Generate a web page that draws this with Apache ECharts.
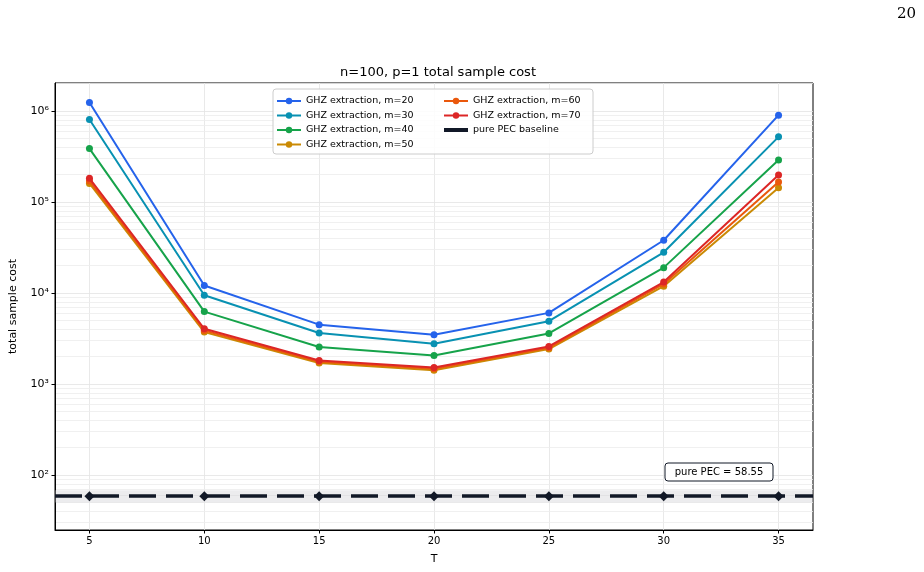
<!DOCTYPE html>
<html>
<head>
<meta charset="utf-8">
<script src="https://cdn.jsdelivr.net/npm/echarts@6/dist/echarts.min.js"></script>
<style>
  html, body { margin: 0; padding: 0; background: #fff; }
  #chart { width: 924px; height: 572px; }
</style>
</head>
<body>
<div id="chart"></div>
<script>
// T values (x axis)
var T = [5, 10, 15, 20, 25, 30, 35];

// total sample cost per m
var m20 = [1.24e6, 12100, 4490, 3470, 6050, 38000, 9.0e5];
var m30 = [8.06e5, 9440, 3640, 2770, 4900, 28000, 5.2e5];
var m40 = [3.86e5, 6250, 2550, 2060, 3600, 19000, 2.9e5];
var m50 = [1.60e5, 3720, 1700, 1420, 2420, 11900, 1.43e5];
var m60 = [1.70e5, 3880, 1760, 1470, 2500, 12600, 1.66e5];
var m70 = [1.82e5, 4050, 1815, 1520, 2590, 13200, 1.98e5];

var pecBaseline = 58.55;
var pecBand = [50, 68];

var seriesNames = ['GHZ extraction, m=20', 'GHZ extraction, m=30', 'GHZ extraction, m=40',
    'GHZ extraction, m=50', 'GHZ extraction, m=60', 'GHZ extraction, m=70'];
var seriesValues = [m20, m30, m40, m50, m60, m70];
var colors = ['#2563eb', '#0891b2', '#16a34a', '#ca8a04', '#ea580c', '#dc2626'];

var xTicks = [5, 10, 15, 20, 25, 30, 35];
var yTicks = [1e2, 1e3, 1e4, 1e5, 1e6];

// minor grid lines 2..9 x 10^k
var yMinor = [];
for (var k = 1; k <= 6; k++) {
    for (var d = 2; d <= 9; d++) {
        var v = d * Math.pow(10, k);
        if (v > 24.9 && v < 2.03e6) yMinor.push(v);
    }
}

var font = 'DejaVu Sans';

function pairs(vals) {
    return T.map(function (t, i) { return [t, vals[i]]; });
}

var series = seriesNames.map(function (name, i) {
    return {
        name: name,
        type: 'line',
        data: pairs(seriesValues[i]),
        symbol: 'circle',
        symbolSize: 7,
        color: colors[i],
        lineStyle: { width: 2 },
        z: 3 + i
    };
});

series.push({
    name: 'pure PEC baseline',
    type: 'line',
    data: T.map(function (t) { return [t, pecBaseline]; }),
    symbol: 'diamond',
    symbolSize: 10,
    color: '#111827',
    lineStyle: { width: 0, opacity: 0 },
    z: 10,
    markLine: {
        silent: true,
        symbol: 'none',
        z: 9,
        label: { show: false },
        lineStyle: { color: '#111827', width: 3.5, type: [27, 10] },
        data: [{ yAxis: pecBaseline }]
    },
    markArea: {
        silent: true,
        z: 1,
        itemStyle: { color: 'rgba(200,200,205,0.35)' },
        data: [[{ yAxis: pecBand[0] }, { yAxis: pecBand[1] }]]
    }
});

// minor horizontal grid
series.push({
    name: 'minor',
    type: 'line',
    data: [],
    silent: true,
    z: 1,
    markLine: {
        silent: true,
        symbol: 'none',
        z: 0,
        label: { show: false },
        lineStyle: { color: '#ececec', width: 0.8, type: 'solid' },
        data: yMinor.map(function (v) { return { yAxis: v }; })
    }
});

var supMap = { '2': '²', '3': '³', '4': '⁴', '5': '⁵', '6': '⁶' };

var chart = echarts.init(document.getElementById('chart'));
var option = {
    animation: false,
    backgroundColor: '#fff',
    textStyle: { fontFamily: font },
    title: {
        text: 'n=100, p=1 total sample cost',
        left: 433,
        top: 61,
        textAlign: 'center',
        textStyle: { fontFamily: font, fontSize: 13, fontWeight: 'normal', color: '#000' }
    },
    grid: { left: 53, right: 111, top: 83, bottom: 42, show: true, borderColor: '#000', borderWidth: 1 },
    legend: [{
        data: seriesNames.slice(0, 4),
        orient: 'vertical',
        left: 276, top: 96, padding: 0,
        itemWidth: 24, itemHeight: 8, itemGap: 4.5,
        textStyle: { fontFamily: font, fontSize: 9.5, color: '#000' },
        z: 20
    }, {
        data: [seriesNames[4], seriesNames[5],
            { name: 'pure PEC baseline', icon: 'path://M0,0L24,0L24,4L0,4Z' }],
        orient: 'vertical',
        left: 443, top: 96, padding: 0,
        itemWidth: 24, itemHeight: 8, itemGap: 4.5,
        textStyle: { fontFamily: font, fontSize: 9.5, color: '#000' },
        z: 20
    }],
    graphic: [{
        type: 'rect',
        shape: { x: 273, y: 89, width: 320, height: 65, r: 3 },
        style: { fill: 'rgba(255,255,255,0.85)', stroke: '#cccccc', lineWidth: 1 },
        z: 15
    }, {
        type: 'rect',
        shape: { x: 665, y: 463, width: 108, height: 18, r: 3 },
        style: { fill: '#fff', stroke: '#111827', lineWidth: 1 },
        z: 15
    }, {
        type: 'text',
        x: 719, y: 472,
        style: {
            text: 'pure PEC = ' + pecBaseline.toFixed(2),
            font: '10px "DejaVu Sans"', fill: '#000',
            textAlign: 'center', textVerticalAlign: 'middle'
        },
        z: 16
    }, {
        type: 'text',
        x: 916, y: 14,
        style: {
            text: '20', font: '15px "DejaVu Serif"', fill: '#000',
            textAlign: 'right', textVerticalAlign: 'middle'
        },
        z: 16
    }],
    xAxis: {
        type: 'value',
        min: 3.5, max: 36.5,
        name: 'T',
        nameLocation: 'middle',
        nameGap: 24,
        nameTextStyle: { fontFamily: font, fontSize: 11, color: '#000' },
        axisLine: { show: true, lineStyle: { color: '#000', width: 1 } },
        axisTick: { show: true, length: 3.5, customValues: xTicks, lineStyle: { color: '#000' } },
        axisLabel: { customValues: xTicks, fontSize: 10, color: '#000', margin: 6, fontFamily: font },
        splitLine: { show: true, lineStyle: { color: '#e3e3e3', width: 0.8 } }
    },
    yAxis: {
        type: 'log',
        logBase: 10,
        min: 24.9, max: 2.03e6,
        name: 'total sample cost',
        nameLocation: 'middle',
        nameGap: 36,
        nameTextStyle: { fontFamily: font, fontSize: 11, color: '#000' },
        axisLine: { show: true, lineStyle: { color: '#000', width: 1 } },
        axisTick: { show: true, length: 3.5, customValues: yTicks, lineStyle: { color: '#000' } },
        axisLabel: {
            customValues: yTicks,
            color: '#000',
            margin: 6,
            fontFamily: font,
            formatter: function (v) {
                var e = Math.round(Math.log10(v));
                return '10' + supMap[String(e)];
            },
            fontSize: 11
        },
        splitLine: { show: true, lineStyle: { color: '#e3e3e3', width: 0.8 } }
    },
    series: series
};
chart.setOption(option);
</script>
</body>
</html>
